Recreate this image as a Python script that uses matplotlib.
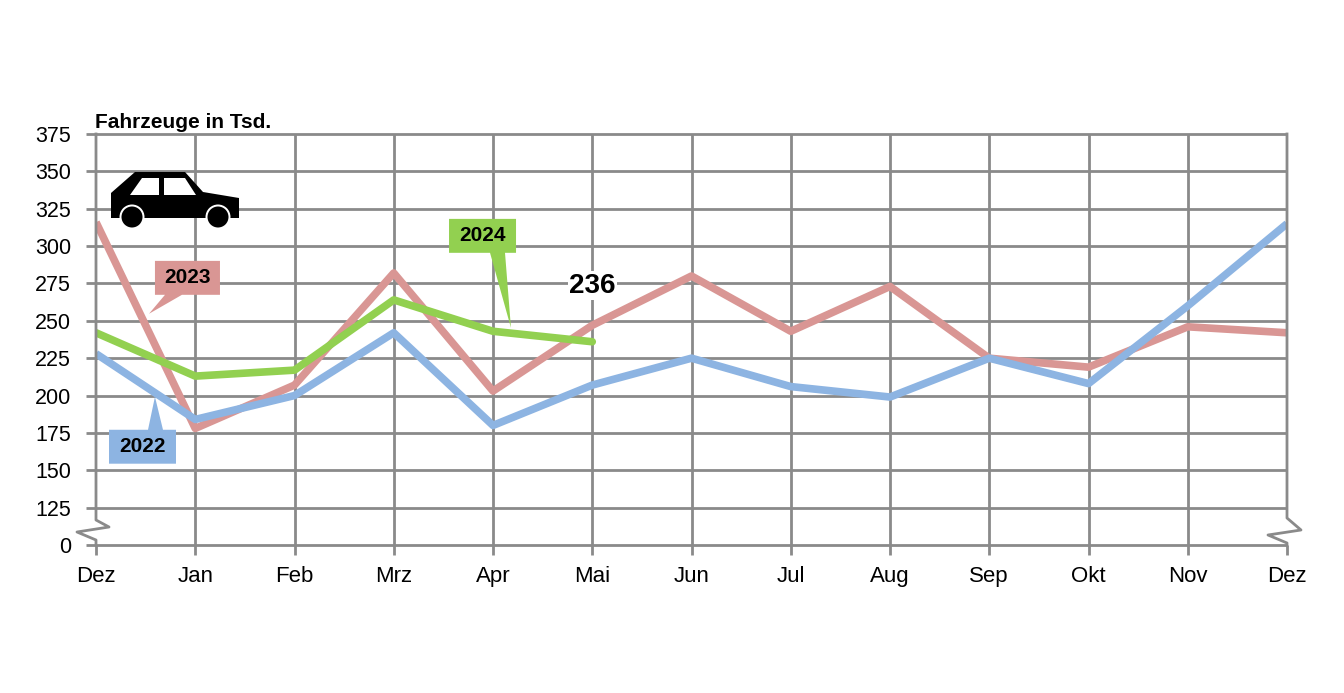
import matplotlib
matplotlib.use('Agg')
import matplotlib.pyplot as plt
from matplotlib.patches import Polygon, Circle

plt.rcParams['font.family'] = ['Liberation Sans', 'DejaVu Sans']

months = ['Dez', 'Jan', 'Feb', 'Mrz', 'Apr', 'Mai', 'Jun', 'Jul', 'Aug', 'Sep', 'Okt', 'Nov', 'Dez']
v2022 = [228, 184, 200, 242, 180, 207, 225, 206, 199, 225, 208, 260, 315]
v2023 = [316, 178, 207, 282, 203, 247, 280, 243, 273, 225, 219, 246, 242]
v2024 = [242, 213, 217, 264, 243, 236]
ytick_pos = [100, 125, 150, 175, 200, 225, 250, 275, 300, 325, 350, 375]
ytick_lab = ['0', '125', '150', '175', '200', '225', '250', '275', '300', '325', '350', '375']
last_label = '236'

c2022 = '#8db4e2'
c2023 = '#d99694'
c2024 = '#92d050'
grid_c = '#8a8a8a'

W, H = 1344, 693
fig = plt.figure(figsize=(W / 100, H / 100), dpi=100)
ax = fig.add_axes([96 / W, 1 - 545 / H, (1287 - 96) / W, (545 - 134) / H])
x = list(range(len(months)))

ax.set_xlim(0, 12)
ax.set_ylim(100, 375)
for s in ax.spines.values():
    s.set_visible(False)

# grid drawn by hand so the outer edges can carry the axis break
ax.hlines(ytick_pos, 0, 12, color=grid_c, lw=2, clip_on=False, zorder=1)
ax.vlines(x[1:-1], 100, 375, color=grid_c, lw=2, zorder=1)

ax.plot(x, v2023, color=c2023, lw=5.5, solid_capstyle='butt', zorder=3)
ax.plot(x, v2022, color=c2022, lw=5.5, solid_capstyle='butt', zorder=4)
ax.plot(x[:len(v2024)], v2024, color=c2024, lw=5.5, solid_capstyle='round', zorder=5)

ax.set_xticks(x)
ax.set_xticklabels(months, fontsize=16)
ax.set_yticks(ytick_pos)
ax.set_yticklabels(ytick_lab, fontsize=15.5)
ax.tick_params(axis='x', length=7, width=2, color=grid_c, pad=8)
ax.tick_params(axis='y', length=7, width=2, color=grid_c, pad=11)

# callouts
def callout(box, ptr, color, text):
    x0, x1, y0, y1 = box
    b0, b1, yb, tx, ty = ptr
    if yb == y0:
        pts = [(x0, y0), (b0, y0), (tx, ty), (b1, y0), (x1, y0), (x1, y1), (x0, y1)]
    else:
        pts = [(x0, y0), (x1, y0), (x1, y1), (b1, y1), (tx, ty), (b0, y1), (x0, y1)]
    ax.add_patch(Polygon(pts, closed=True, facecolor=color, edgecolor='none', zorder=6))
    ax.text((x0 + x1) / 2, (y0 + y1) / 2, text, ha='center', va='center',
            fontsize=15, fontweight='bold', zorder=7)

callout((0.594, 1.249, 267.4, 290.1), (0.695, 0.866, 267.4, 0.534, 254.7), c2023, '2023')
callout((0.131, 0.806, 154.4, 177.1), (0.524, 0.675, 177.1, 0.594, 199.2), c2022, '2022')
callout((3.557, 4.232, 295.5, 318.2), (3.970, 4.121, 295.5, 4.181, 245.3), c2024, '2024')

ax.text(5.0, 273.5, last_label, ha='center', va='center', fontsize=20, fontweight='bold',
        bbox=dict(facecolor='white', edgecolor='none', pad=1), zorder=6)

# overlay in pixel coordinates: axis edges with break, car icon, unit label
ov = fig.add_axes([0, 0, 1, 1], zorder=10)
ov.set_xlim(0, W)
ov.set_ylim(H, 0)
ov.axis('off')
ov.patch.set_alpha(0)

ov.plot([96, 96, 109, 77, 96, 96], [134, 520, 527, 532, 540, 545], color=grid_c, lw=2)
ov.plot([1287, 1287, 1301, 1268, 1287, 1287], [134, 518, 530, 535, 543, 545], color=grid_c, lw=2)

body = [(111, 218), (111, 193), (135, 172), (185, 172), (203, 192), (239, 198), (239, 218)]
ov.add_patch(Polygon(body, closed=True, facecolor='black', edgecolor='none'))
ov.add_patch(Polygon([(130, 195), (142, 178), (159, 178), (159, 195)], closed=True,
                     facecolor='white', edgecolor='none'))
ov.add_patch(Polygon([(164, 178), (185, 178), (196, 195), (164, 195)], closed=True,
                     facecolor='white', edgecolor='none'))
for cx in (132, 218):
    ov.add_patch(Circle((cx, 217), 12.5, facecolor='white', edgecolor='none'))
    ov.add_patch(Circle((cx, 217), 10.5, facecolor='black', edgecolor='none'))

ov.text(95, 128, 'Fahrzeuge in Tsd.', ha='left', va='baseline', fontsize=15, fontweight='bold')

fig.savefig('out.png', dpi=100)
